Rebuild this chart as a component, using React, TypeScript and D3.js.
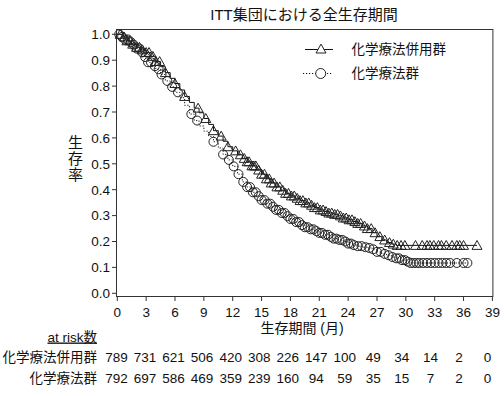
import React from "react";
import * as d3 from "d3";

// ---- data ----
const xTicks = [0, 3, 6, 9, 12, 15, 18, 21, 24, 27, 30, 33, 36, 39];
const yTicks = [0, 0.1, 0.2, 0.3, 0.4, 0.5, 0.6, 0.7, 0.8, 0.9, 1.0];

const seriesNames = ["化学療法併用群", "化学療法群"];

// combination arm (triangles, solid line): step curve
const timesA = [0, 0.5, 1, 1.5, 2, 2.5, 3, 3.5, 4, 4.5, 5, 5.5, 6, 6.5, 7, 7.5, 8, 8.5, 9, 9.5, 10, 10.5, 11, 11.5, 12, 12.5, 13, 13.5, 14, 14.5, 15, 15.5, 16, 16.5, 17, 17.5, 18, 18.5, 19, 19.5, 20, 20.5, 21, 21.5, 22, 22.5, 23, 23.5, 24, 24.5, 25, 25.5, 26, 26.5, 27, 27.5, 28, 28.5, 29, 37.4];
const survA = [1.0, 0.99, 0.975, 0.962, 0.95, 0.94, 0.93, 0.915, 0.895, 0.875, 0.852, 0.83, 0.81, 0.785, 0.76, 0.737, 0.715, 0.697, 0.675, 0.652, 0.628, 0.607, 0.587, 0.566, 0.55, 0.535, 0.521, 0.508, 0.492, 0.476, 0.46, 0.442, 0.426, 0.411, 0.398, 0.386, 0.376, 0.367, 0.358, 0.349, 0.34, 0.331, 0.322, 0.316, 0.31, 0.305, 0.299, 0.291, 0.284, 0.277, 0.27, 0.26, 0.25, 0.234, 0.219, 0.206, 0.196, 0.19, 0.185, 0.185];
const censorA = [0.3, 0.7, 1.0, 1.3, 1.6, 2.0, 2.3, 2.6, 3.0, 3.3, 3.7, 4.0, 4.4, 5.0, 6.0, 7.0, 8.4, 9.2, 10.0, 10.8, 11.5, 12.3, 12.8, 13.2, 13.5, 13.7, 14.0, 14.2, 14.4, 14.7, 15.0, 15.3, 15.5, 15.8, 16.0, 16.3, 16.6, 16.9, 17.2, 17.5, 17.8, 18.1, 18.4, 18.7, 19.0, 19.3, 19.6, 19.9, 20.2, 20.5, 20.8, 21.1, 21.4, 21.7, 22.0, 22.3, 22.6, 22.9, 23.2, 23.5, 23.8, 24.1, 24.4, 24.7, 25.0, 25.3, 25.7, 26.0, 26.4, 26.8, 27.3, 27.8, 28.3, 28.7, 29.1, 29.5, 29.9, 31.0, 31.7, 32.2, 32.5, 32.9, 33.4, 33.7, 34.2, 34.8, 35.3, 35.6, 36.0, 37.4];

// chemotherapy arm (circles, dotted line): step curve
const timesB = [0, 0.4, 0.8, 1.2, 1.6, 2, 2.4, 2.8, 3.2, 3.6, 4, 4.5, 5, 5.5, 6, 6.5, 7, 7.5, 8, 8.5, 9, 9.5, 10, 10.5, 11, 11.5, 12, 12.5, 13, 13.5, 14, 14.5, 15, 15.5, 16, 16.5, 17, 17.5, 18, 18.5, 19, 19.5, 20, 20.5, 21, 21.5, 22, 22.5, 23, 23.5, 24, 24.5, 25, 25.5, 26, 26.5, 27, 27.5, 28, 28.5, 29, 29.5, 30, 30.5, 36.4];
const survB = [1.0, 0.99, 0.98, 0.97, 0.96, 0.945, 0.93, 0.912, 0.892, 0.877, 0.865, 0.845, 0.82, 0.797, 0.776, 0.755, 0.726, 0.692, 0.667, 0.646, 0.626, 0.606, 0.585, 0.561, 0.536, 0.515, 0.49, 0.46, 0.43, 0.41, 0.39, 0.375, 0.36, 0.346, 0.334, 0.322, 0.31, 0.298, 0.287, 0.275, 0.263, 0.255, 0.247, 0.24, 0.233, 0.226, 0.218, 0.211, 0.206, 0.2, 0.192, 0.186, 0.182, 0.178, 0.175, 0.17, 0.16, 0.152, 0.147, 0.14, 0.135, 0.128, 0.122, 0.117, 0.117];
const censorB = [0.2, 0.5, 0.8, 1.1, 1.4, 1.7, 2.0, 2.3, 2.6, 2.9, 3.2, 3.5, 3.9, 4.3, 4.6, 5.2, 5.7, 6.3, 7.7, 8.3, 10.0, 11.0, 11.6, 12.1, 12.6, 13.1, 13.5, 13.8, 14.1, 14.4, 14.7, 15.0, 15.3, 15.6, 15.9, 16.2, 16.5, 16.8, 17.1, 17.4, 17.7, 18.0, 18.3, 18.6, 18.9, 19.2, 19.5, 19.8, 20.1, 20.4, 20.7, 21.0, 21.3, 21.6, 21.9, 22.2, 22.5, 22.8, 23.1, 23.4, 23.7, 24.0, 24.3, 24.6, 25.0, 25.4, 25.8, 26.2, 26.6, 27.0, 27.4, 27.8, 28.2, 28.6, 29.0, 29.3, 29.6, 29.9, 30.2, 30.5, 30.8, 31.1, 31.4, 31.8, 32.2, 32.6, 33.0, 33.4, 33.8, 34.2, 34.6, 35.3, 36.0, 36.4];

const riskA = [789, 731, 621, 506, 420, 308, 226, 147, 100, 49, 34, 14, 2, 0];
const riskB = [792, 697, 586, 469, 359, 239, 160, 94, 59, 35, 15, 7, 2, 0];

const FONT = "'Liberation Sans', Arial, Helvetica, 'Noto Sans CJK JP', sans-serif";
const INK = "#111";

const x = d3.scaleLinear().domain([0, 39]).range([117.3, 492.4]);
const y = d3.scaleLinear().domain([0, 1]).range([293.3, 34.3]);
const xRisk = d3.scaleLinear().domain([0, 39]).range([116.5, 487.5]);

function stepValue(times: number[], surv: number[], t: number) {
  const i = Math.max(0, d3.bisectRight(times, t) - 1);
  return surv[i];
}

const triPath = "M0,-4.9L5,4L-5,4Z";

export default function App() {
  const stepLine = d3
    .line<[number, number]>()
    .curve(d3.curveStepAfter)
    .x((d) => x(d[0]))
    .y((d) => y(d[1]));

  const lineA = stepLine(timesA.map((t, i) => [t, survA[i]] as [number, number]));
  const lineB = stepLine(timesB.map((t, i) => [t, survB[i]] as [number, number]));

  const frame = { x0: 116.5, y0: 29.5, x1: 492.9, y1: 296.5 };
  const yLabelChars = ["生", "存", "率"];

  return (
    <svg
      width={504}
      height={396}
      style={{ position: "absolute", left: 0, top: 0, display: "block", background: "#fff" }}
      fontFamily={FONT}
    >
      <rect x={0} y={0} width={504} height={396} fill="#fff" />
      {/* title */}
      <text x={304} y={19.5} textAnchor="middle" fontSize={15} fill={INK}>
        ITT集団における全生存期間
      </text>

      {/* frame */}
      <rect
        x={frame.x0}
        y={frame.y0}
        width={frame.x1 - frame.x0}
        height={frame.y1 - frame.y0}
        fill="none"
        stroke="#333"
        strokeWidth={1}
      />

      {/* y axis ticks */}
      {yTicks.map((v) => (
        <g key={"y" + v}>
          <line x1={112} x2={116.5} y1={y(v)} y2={y(v)} stroke="#333" strokeWidth={1} />
          <text x={110} y={y(v) + 4.8} textAnchor="end" fontSize={13.5} fill={INK}>
            {d3.format(".1f")(v)}
          </text>
        </g>
      ))}

      {/* x axis ticks */}
      {xTicks.map((v) => (
        <g key={"x" + v}>
          <line x1={x(v)} x2={x(v)} y1={296.5} y2={301} stroke="#333" strokeWidth={1} />
          <text x={x(v)} y={317} textAnchor="middle" fontSize={13.5} fill={INK}>
            {v}
          </text>
        </g>
      ))}

      {/* axis titles */}
      <text x={302} y={333} textAnchor="middle" fontSize={14} fill={INK}>
        生存期間 (月)
      </text>
      {yLabelChars.map((c, i) => (
        <text key={c} x={75.5} y={148 + i * 16} textAnchor="middle" fontSize={15} fill={INK}>
          {c}
        </text>
      ))}

      {/* curves */}
      <path d={lineA || ""} fill="none" stroke="#111" strokeWidth={1} />
      <path d={lineB || ""} fill="none" stroke="#111" strokeWidth={1} strokeDasharray="1.2,1.8" />

      {/* censor marks */}
      {censorA.map((t, i) => (
        <path
          key={"ca" + i}
          d={triPath}
          transform={`translate(${x(t)},${y(stepValue(timesA, survA, t))})`}
          fill="none"
          stroke="#222"
          strokeWidth={1}
        />
      ))}
      {censorB.map((t, i) => (
        <circle
          key={"cb" + i}
          cx={x(t)}
          cy={y(stepValue(timesB, survB, t))}
          r={4.5}
          fill="none"
          stroke="#222"
          strokeWidth={1}
        />
      ))}

      {/* legend */}
      <g>
        <line x1={305} x2={333} y1={49.5} y2={49.5} stroke="#111" strokeWidth={1} />
        <path d={triPath} transform="translate(321,49)" fill="#fff" stroke="#222" strokeWidth={1} />
        <text x={351.5} y={54} fontSize={13.5} fill={INK}>
          {seriesNames[0]}
        </text>
        <line x1={303} x2={333} y1={73.5} y2={73.5} stroke="#111" strokeWidth={1} strokeDasharray="1.2,1.8" />
        <circle cx={320.7} cy={73.5} r={5} fill="#fff" stroke="#222" strokeWidth={1} />
        <text x={351.5} y={78} fontSize={13.5} fill={INK}>
          {seriesNames[1]}
        </text>
      </g>

      {/* at risk table */}
      <text x={97} y={341.5} textAnchor="end" fontSize={13.5} fill={INK} textDecoration="underline">
        at risk数
      </text>
      <text x={97} y={362} textAnchor="end" fontSize={13.5} fill={INK}>
        {seriesNames[0]}
      </text>
      <text x={97} y={383} textAnchor="end" fontSize={13.5} fill={INK}>
        {seriesNames[1]}
      </text>
      {xTicks.map((t, i) => (
        <g key={"r" + t}>
          <text x={xRisk(t)} y={362} textAnchor="middle" fontSize={13.5} fill={INK}>
            {riskA[i]}
          </text>
          <text x={xRisk(t)} y={383} textAnchor="middle" fontSize={13.5} fill={INK}>
            {riskB[i]}
          </text>
        </g>
      ))}
    </svg>
  );
}
